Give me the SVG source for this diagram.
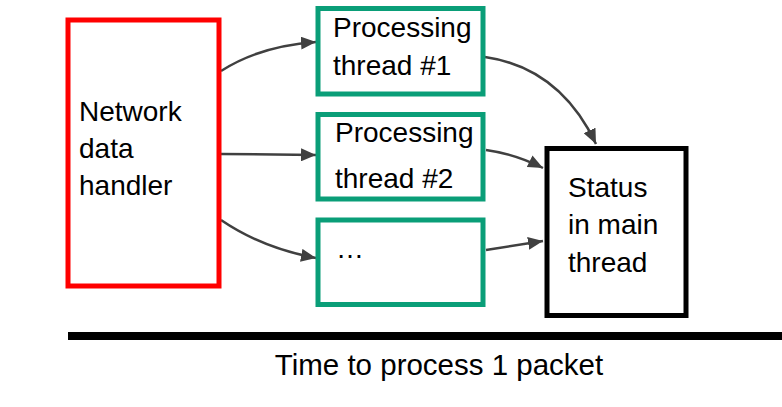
<svg xmlns="http://www.w3.org/2000/svg" width="782" height="407" viewBox="0 0 782 407">
<style>
text{font-family:"Liberation Sans",Arial,sans-serif;font-size:28px;fill:#000}
.cap{font-size:29.5px}
.red{fill:#fff;stroke:#FF0000;stroke-width:5}
.grn{fill:#fff;stroke:#0A9E78;stroke-width:5}
.blk{fill:#fff;stroke:#000;stroke-width:5}
.con{fill:none;stroke:#404040;stroke-width:2.5;marker-end:url(#ah)}
</style>
<defs>
<marker id="ah" markerUnits="userSpaceOnUse" markerWidth="15" markerHeight="13" refX="15" refY="6.5" orient="auto">
<path d="M0,0 L15,6.5 L0,13 z" fill="#404040"/>
</marker>
</defs>
<g id="connectors">
<path class="con" d="M221,71 Q260,46 316,42"/>
<path class="con" d="M221,154 L316,155"/>
<path class="con" d="M221,220 Q262,248 316,258"/>
<path class="con" d="M485,57 Q560,68 596,144"/>
<path class="con" d="M486,150 Q515,154 543,168"/>
<path class="con" d="M486,250 L543,241"/>
</g>
<g id="network">
<rect class="red" x="68" y="20" width="151" height="266"/>
<text x="79" y="121">Network</text>
<text x="79" y="158">data</text>
<text x="79" y="195">handler</text>
</g>
<g id="thread1">
<rect class="grn" x="318" y="8.5" width="165" height="85.5"/>
<text x="333" y="37">Processing</text>
<text x="333" y="75">thread #1</text>
</g>
<g id="thread2">
<rect class="grn" x="318" y="114.5" width="165" height="84.5"/>
<text x="335" y="142">Processing</text>
<text x="335" y="188">thread #2</text>
</g>
<g id="thread3">
<rect class="grn" x="318" y="220" width="165" height="84.5"/>
<text x="336" y="258">…</text>
</g>
<g id="status">
<rect class="blk" x="547" y="148.5" width="139" height="167"/>
<text x="568" y="197">Status</text>
<text x="568" y="234">in main</text>
<text x="568" y="272">thread</text>
</g>
<g id="timeline">
<rect x="68" y="332" width="714" height="8" fill="#000"/>
<text class="cap" x="439" y="375" text-anchor="middle">Time to process 1 packet</text>
</g>
</svg>
